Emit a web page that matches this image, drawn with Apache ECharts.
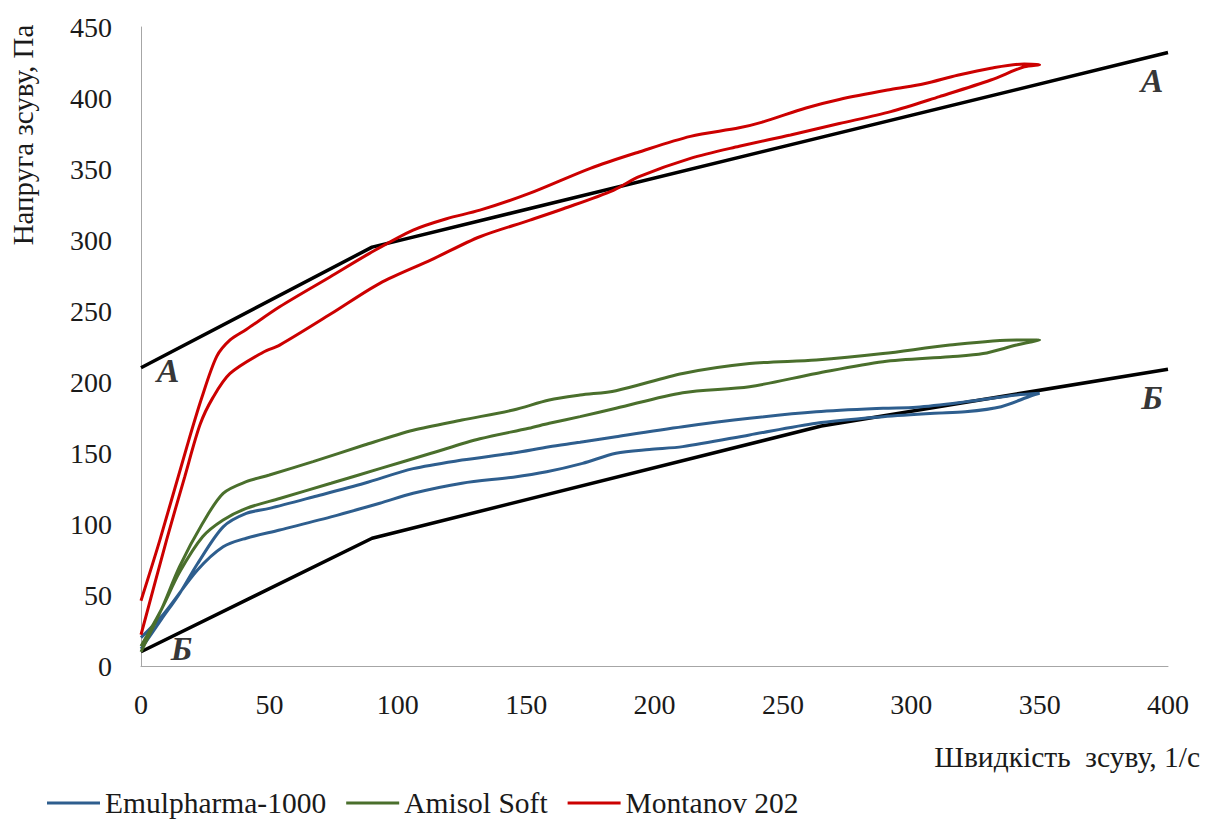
<!DOCTYPE html>
<html>
<head>
<meta charset="utf-8">
<script src="https://cdn.jsdelivr.net/npm/echarts@6/dist/echarts.min.js"></script>
<style>
html,body{margin:0;padding:0;background:#fff;}
#chart{width:1205px;height:821px;}
</style>
</head>
<body>
<div id="chart"></div>
<script>
// Axis ticks
const xTicks = {min: 0, max: 400, step: 50};
const yTicks = {min: 0, max: 450, step: 50};

// Series names
const seriesNames = ['Emulpharma-1000', 'Amisol Soft', 'Montanov 202'];

// Emulpharma-1000: upper branch then lower branch [shear rate, stress]
const emulpharmaUp = [[0,12],[8,33],[15,51],[22,72],[32,98],[41,107.5],[50,111],[67,119],[87,128.7],[106,139],[125,145],[145,150],[159,154.4],[171,157.5],[185,161.5],[211,168.5],[237,174.4],[263,179],[289,181.5],[302,182.2],[321,186],[341,190.8],[350,192]];
const emulpharmaDown = [[350,192],[347,190.5],[335,182.6],[321,179],[309,178],[289,175.6],[263,171],[237,162.7],[211,154.5],[198,152.5],[185,149.8],[172,142.7],[158,136.8],[145,133],[125,128.7],[106,121.6],[93,114.6],[74,105],[54,95.8],[41,90],[32,84],[22,67.6],[9,37],[0,20]];

// Amisol Soft
const amisolUp = [[0,10],[8,40],[15,70],[24,100.5],[32,121.6],[41,129.8],[50,134.5],[67,143.9],[87,155.6],[106,166],[125,173.2],[145,180.3],[159,187.3],[171,190.8],[185,193.9],[211,206],[237,213],[263,215.5],[289,220],[315,226],[341,229.6],[350,229.5]];
const amisolDown = [[350,229.5],[341,226],[328,220],[315,217.8],[289,214.3],[263,206],[237,196.7],[211,192.5],[185,181.5],[171,175.6],[159,170.9],[151,167.4],[132,160],[113,149.8],[93,139],[74,128.7],[54,118],[41,111],[32,102.8],[24,91],[15,66],[8,40],[0,14]];

// Montanov 202
const montanovUp = [[0,46],[7.4,89],[17.8,154],[23.6,188.5],[29.5,218],[34.7,229.6],[41,237],[54,253],[73.6,274],[89,290.6],[106,307],[119,315],[132,321],[151.5,333],[175,350.5],[194,362],[214,373],[233,379],[242,383],[259,393],[272,399],[292,406],[305,410],[318,416],[331,421],[344,424],[350,423.5]];
const montanovDown = [[350,423.5],[344,422],[331,412.7],[311,401],[292,390.4],[272,382],[253,374],[233,366],[214,357.5],[194,344.6],[184,335],[164.5,322],[151.5,314],[132,302.3],[113,286],[93,269.5],[74,248],[54,226],[47.6,221],[34.7,206],[28,189],[23,170],[17,133],[10,89],[0,22]];

// Black guide lines A and Б
const lineA = [[0,210],[90,295],[400,432]];
const lineB = [[0,10],[90,90],[265,169],[400,209]];

// Letter annotations [x, y, text]
const annotations = [[10.6,208,'А'],[393.8,412,'А'],[15.8,12,'Б'],[393.8,189.4,'Б']];

// Titles
const xTitle = 'Швидкість  зсуву, 1/с';
const yTitle = 'Напруга зсуву, Па';

const FONT = '"Liberation Serif", "Times New Roman", serif';
const colors = ['#2E5E8E', '#4A6F2C', '#CC0000'];

function loop(up, down) { return up.concat(down.slice(1)); }

const chart = echarts.init(document.getElementById('chart'), null, {renderer: 'svg'});

const curveSeries = [
  loop(emulpharmaUp, emulpharmaDown),
  loop(amisolUp, amisolDown),
  loop(montanovUp, montanovDown)
].map((d, i) => ({
  name: seriesNames[i],
  type: 'line',
  data: d,
  smooth: 0.3,
  showSymbol: false,
  symbol: 'none',
  lineStyle: {color: colors[i], width: 3},
  itemStyle: {color: colors[i]},
  z: 3
}));

const option = {
  animation: false,
  backgroundColor: '#fff',
  grid: {left: 141, right: 37, top: 27, bottom: 155},
  xAxis: {
    type: 'value', min: xTicks.min, max: xTicks.max, interval: xTicks.step,
    axisLine: {show: true, lineStyle: {color: '#a6a6a6', width: 1}},
    axisTick: {show: false},
    splitLine: {show: false},
    axisLabel: {fontFamily: FONT, fontSize: 28, color: '#1a1a1a', margin: 24}
  },
  yAxis: {
    type: 'value', min: yTicks.min, max: yTicks.max, interval: yTicks.step,
    axisLine: {show: true, lineStyle: {color: '#a6a6a6', width: 1}},
    axisTick: {show: false},
    splitLine: {show: false},
    axisLabel: {fontFamily: FONT, fontSize: 28, color: '#1a1a1a', margin: 29}
  },
  legend: {
    data: seriesNames,
    left: 47, top: 788, padding: 0,
    itemWidth: 53, itemHeight: 3, itemGap: 20,
    icon: 'rect',
    textStyle: {fontFamily: FONT, fontSize: 29.5, lineHeight: 30, color: '#1a1a1a'}
  },
  graphic: [
    {type: 'text', x: 1200, y: 757, style: {text: xTitle, font: '29.5px ' + FONT, fill: '#1a1a1a', align: 'right', verticalAlign: 'middle'}},
    {type: 'text', x: 23, y: 135, rotation: Math.PI / 2, style: {text: yTitle, font: '29px ' + FONT, fill: '#1a1a1a', align: 'center', verticalAlign: 'middle'}}
  ],
  series: [
    {name: 'A', type: 'line', data: lineA, showSymbol: false, symbol: 'none', lineStyle: {color: '#000', width: 3.5}, z: 2},
    {name: 'Б', type: 'line', data: lineB, showSymbol: false, symbol: 'none', lineStyle: {color: '#000', width: 3.5}, z: 2},
    ...curveSeries,
    {
      name: 'labels', type: 'scatter', silent: true, symbolSize: 1,
      itemStyle: {color: 'rgba(0,0,0,0)'},
      data: annotations.map(a => ({value: [a[0], a[1]], label: {formatter: a[2]}})),
      label: {show: true, position: 'inside', fontFamily: FONT, fontSize: 34, fontWeight: 'bold', fontStyle: 'italic', color: '#000'},
      z: 5
    }
  ]
};
chart.setOption(option);
</script>
</body>
</html>
